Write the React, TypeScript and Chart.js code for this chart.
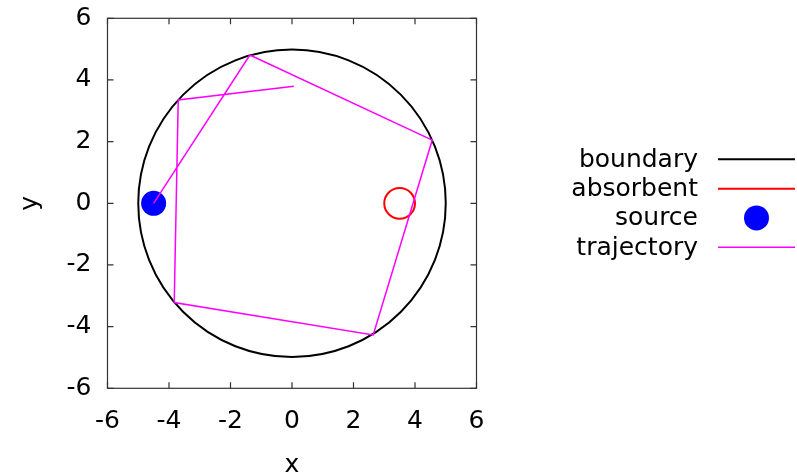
import { useEffect, useRef } from "react";
import { Chart, registerables } from "chart.js";

Chart.register(...registerables);

// Axis range and tick spacing
const axisMin = -6;
const axisMax = 6;
const tickStep = 2;

// Series names, in drawing/legend order
const seriesLabels = ["boundary", "absorbent", "source", "trajectory"];
const seriesColors = ["#000000", "#ff0000", "#0000ff", "#ff00ff"];

// Reflecting boundary: circle centred at origin
const boundaryCenter = [{ x: 0, y: 0 }];
const boundaryRadius = 5;

// Absorbing target
const absorbentCenter = [{ x: 3.5, y: 0 }];
const absorbentRadius = 0.5;

// Particle source
const sourcePos = [{ x: -4.5, y: 0 }];

// Particle trajectory (bounces off the boundary)
const trajectoryX = [-4.5, -1.37, 4.56, 2.64, -3.83, -3.7, 0.06];
const trajectoryY = [0, 4.81, 2.05, -4.27, -3.22, 3.35, 3.8];

const FONT = "'DejaVu Sans', sans-serif";
const FONT_SIZE = 25;

// pixel radius of a circle given in data units
const radiusInUnits = (r: number) => (ctx: any) => {
  const s = ctx.chart.scales?.x;
  if (!s) return 0;
  return Math.abs(s.getPixelForValue(r) - s.getPixelForValue(0));
};

const framePlugin = {
  id: "frame",
  afterDatasetsDraw(chart: any) {
    const { ctx, chartArea, scales } = chart;
    const { left, right, top, bottom } = chartArea;
    const len = 6;
    ctx.save();
    ctx.strokeStyle = "#333333";
    ctx.lineWidth = 1.2;
    ctx.beginPath();
    scales.x.ticks.forEach((t: any) => {
      const px = scales.x.getPixelForValue(t.value);
      ctx.moveTo(px, bottom);
      ctx.lineTo(px, bottom - len);
      ctx.moveTo(px, top);
      ctx.lineTo(px, top + len);
    });
    scales.y.ticks.forEach((t: any) => {
      const py = scales.y.getPixelForValue(t.value);
      ctx.moveTo(left, py);
      ctx.lineTo(left + len, py);
      ctx.moveTo(right, py);
      ctx.lineTo(right - len, py);
    });
    ctx.stroke();
    ctx.strokeRect(left, top, right - left, bottom - top);
    ctx.restore();
  },
};

const keyPlugin = {
  id: "key",
  afterDraw(chart: any) {
    const { ctx, chartArea } = chart;
    const mid = (chartArea.top + chartArea.bottom) / 2;
    const textRight = chartArea.right + 221.5;
    const sampleL = chartArea.right + 241.5;
    const sampleR = chartArea.right + 318.5;
    const rowH = 29.3;
    ctx.save();
    ctx.font = `${FONT_SIZE}px ${FONT}`;
    ctx.textAlign = "right";
    ctx.textBaseline = "middle";
    seriesLabels.forEach((label, i) => {
      const y = mid + (i - 1.5) * rowH;
      ctx.fillStyle = "#000000";
      ctx.fillText(label, textRight, y + 1);
      if (label === "source") {
        ctx.fillStyle = seriesColors[i];
        ctx.beginPath();
        ctx.arc((sampleL + sampleR) / 2, y, 12.5, 0, Math.PI * 2);
        ctx.fill();
      } else {
        ctx.strokeStyle = seriesColors[i];
        ctx.lineWidth = label === "trajectory" ? 1.5 : 2;
        ctx.beginPath();
        ctx.moveTo(sampleL, y);
        ctx.lineTo(sampleR, y);
        ctx.stroke();
      }
    });
    ctx.restore();
  },
};

export default function App() {
  const canvasRef = useRef<HTMLCanvasElement | null>(null);

  useEffect(() => {
    document.body.style.margin = "0";
    const canvas = canvasRef.current;
    if (!canvas) return;

    const trajectory = trajectoryX.map((x, i) => ({ x, y: trajectoryY[i] }));

    const tickFont = { family: FONT, size: FONT_SIZE };

    const chart = new Chart(canvas, {
      type: "scatter",
      data: {
        datasets: [
          {
            label: seriesLabels[0],
            data: boundaryCenter,
            pointRadius: radiusInUnits(boundaryRadius),
            pointBorderColor: seriesColors[0],
            pointBackgroundColor: "rgba(0,0,0,0)",
            pointBorderWidth: 2,
            order: 4,
          },
          {
            label: seriesLabels[1],
            data: absorbentCenter,
            pointRadius: radiusInUnits(absorbentRadius),
            pointBorderColor: seriesColors[1],
            pointBackgroundColor: "rgba(0,0,0,0)",
            pointBorderWidth: 2,
            order: 3,
          },
          {
            label: seriesLabels[2],
            data: sourcePos,
            pointRadius: 12.5,
            pointBorderWidth: 0,
            pointBackgroundColor: seriesColors[2],
            pointBorderColor: seriesColors[2],
            order: 2,
          },
          {
            label: seriesLabels[3],
            data: trajectory,
            showLine: true,
            borderColor: seriesColors[3],
            borderWidth: 1.5,
            pointRadius: 0,
            order: 1,
          },
        ],
      },
      options: {
        responsive: false,
        animation: false,
        events: [],
        layout: { padding: { top: 18.3, right: 320.5, bottom: 0, left: 0 } },
        plugins: {
          legend: { display: false },
          tooltip: { enabled: false },
        },
        scales: {
          x: {
            type: "linear",
            min: axisMin,
            max: axisMax,
            grid: { display: false, drawTicks: false },
            border: { display: false },
            ticks: {
              stepSize: tickStep,
              color: "#000000",
              font: tickFont,
              padding: 18,
              maxRotation: 0,
            },
            title: {
              display: true,
              text: "x",
              color: "#000000",
              font: tickFont,
              padding: { top: 0, bottom: -5 },
            },
            afterFit: (s: any) => {
              s.height = 86.7;
              s.paddingLeft = 0;
              s.paddingRight = 0;
            },
          },
          y: {
            type: "linear",
            min: axisMin,
            max: axisMax,
            grid: { display: false, drawTicks: false },
            border: { display: false },
            ticks: {
              stepSize: tickStep,
              color: "#000000",
              font: tickFont,
              padding: 16,
            },
            title: {
              display: true,
              text: "y",
              color: "#000000",
              font: tickFont,
              padding: { top: 15, bottom: 0 },
            },
            afterFit: (s: any) => {
              s.width = 107.5;
              s.paddingTop = 0;
              s.paddingBottom = 0;
            },
          },
        },
      },
      plugins: [framePlugin, keyPlugin],
    } as any);

    return () => chart.destroy();
  }, []);

  return (
    <div style={{ position: "fixed", left: 0, top: 0, width: 797, height: 475 }}>
      <canvas ref={canvasRef} width={797} height={475} style={{ width: 797, height: 475 }} />
    </div>
  );
}
